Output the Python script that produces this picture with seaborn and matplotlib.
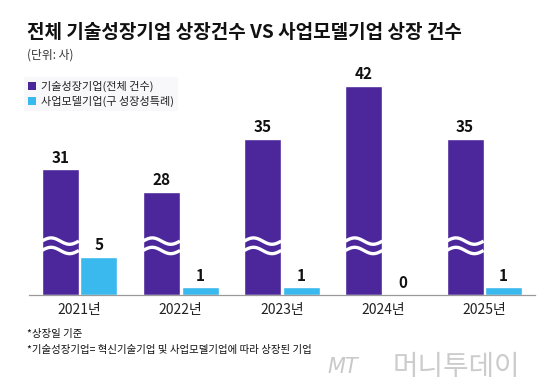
import numpy as np
import pandas as pd
import matplotlib
matplotlib.use("Agg")
import matplotlib.pyplot as plt
from matplotlib.patches import Patch
import seaborn as sns

# ---- data ----
years = ["2021년", "2022년", "2023년", "2024년", "2025년"]
tech_growth = [31, 28, 35, 42, 35]      # 기술성장기업(전체 건수)
biz_model = [5, 1, 1, 0, 1]             # 사업모델기업(구 성장성특례)
series_names = ["기술성장기업(전체 건수)", "사업모델기업(구 성장성특례)"]
title = "전체 기술성장기업 상장건수 VS 사업모델기업 상장 건수"
unit_text = "(단위: 사)"
notes = ["*상장일 기준", "*기술성장기업= 혁신기술기업 및 사업모델기업에 따라 상장된 기업"]

# broken-axis: the purple series is drawn with this many units cut out
BREAK_CUT = 14.4
WAVE_AT = 6.5

colors = ["#4B279B", "#3AB9EE"]

sns.set_theme(style="white")
plt.rcParams["font.family"] = ["Noto Sans CJK KR", "DejaVu Sans"]

df = pd.DataFrame({
    "year": years * 2,
    "series": [series_names[0]] * len(years) + [series_names[1]] * len(years),
    "value": tech_growth + biz_model,
})
df["shown"] = np.where(df["series"] == series_names[0], df["value"] - BREAK_CUT, df["value"])

fig = plt.figure(figsize=(5.6, 3.88), dpi=100)
ax = fig.add_axes([29 / 560, 93 / 388, 506 / 560, 235 / 388])

sns.barplot(data=df, x="year", y="shown", hue="series", order=years,
            hue_order=series_names, palette=colors, width=0.762, gap=0.04,
            saturation=1, legend=False, ax=ax, errorbar=None)

ax.set_xlim(-0.5, len(years) - 0.5)
ax.set_ylim(0, 31.04)

# value labels and wave breaks
for cont_i, cont in enumerate(ax.containers):
    vals = tech_growth if cont_i == 0 else biz_model
    for bar, v in zip(cont, vals):
        x0 = bar.get_x()
        w = bar.get_width()
        h = bar.get_height()
        ax.text(x0 + w / 2, h + 0.5, f"{v}", ha="center", va="bottom",
                fontsize=11, fontweight="bold", color="#111111")
        if cont_i == 0:
            t = np.linspace(0, 1, 60)
            xs = x0 + t * w
            for off in (0.62, -0.62):
                ys = WAVE_AT + off + 0.42 * np.sin(2 * np.pi * t)
                ax.plot(xs, ys, color="white", lw=2.4, solid_capstyle="butt")

# axis styling
for s in ["top", "right", "left"]:
    ax.spines[s].set_visible(False)
ax.spines["bottom"].set_color("#9a9a9a")
ax.spines["bottom"].set_linewidth(0.9)
ax.set_yticks([])
ax.set_xlabel("")
ax.set_ylabel("")
ax.set_xticks(np.arange(len(years)))
ax.set_xticklabels(years, fontsize=10, color="#222222")
ax.tick_params(axis="x", which="major", length=0, pad=6)
ax.set_xticks(np.arange(-0.5, len(years)), minor=True)
ax.tick_params(axis="x", which="minor", direction="in", length=4.5,
               width=0.9, color="#9a9a9a")

# title and subtitle
fig.text(27 / 560, 1 - 32 / 388, title, fontsize=13.7, fontweight="bold",
         color="#111111", va="center", ha="left")
fig.text(27 / 560, 1 - 55 / 388, unit_text, fontsize=8.5, color="#333333",
         va="center", ha="left")

# legend
handles = [Patch(facecolor=c, edgecolor="none") for c in colors]
leg = fig.legend(handles, series_names, loc="upper left",
                 bbox_to_anchor=(24 / 560, 1 - 77 / 388), frameon=True,
                 fontsize=8, handlelength=0.75, handleheight=0.75,
                 handletextpad=0.4, labelspacing=0.35, borderpad=0.35,
                 borderaxespad=0)
leg.get_frame().set_facecolor("#f7f7f9")
leg.get_frame().set_edgecolor("none")
leg.get_frame().set_boxstyle("square", pad=0)
for txt in leg.get_texts():
    txt.set_color("#222222")

# footnotes
fig.text(27 / 560, 1 - 334 / 388, notes[0], fontsize=7.5, color="#111111",
         va="center", ha="left")
fig.text(27 / 560, 1 - 350 / 388, notes[1], fontsize=7.5, color="#111111",
         va="center", ha="left")

# watermark
fig.text(327 / 560, 1 - 367 / 388, "MT", fontsize=15, style="italic",
         color="#c9c9c9", va="center", ha="left", family=["DejaVu Sans"])
fig.text(393 / 560, 1 - 367 / 388, "머니투데이", fontsize=20, color="#cccccc",
         va="center", ha="left")

fig.savefig("out.png", dpi=100)
